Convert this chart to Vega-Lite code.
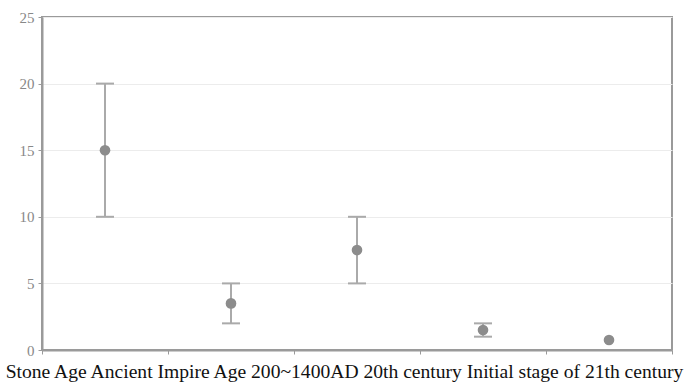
{
  "$schema": "https://vega.github.io/schema/vega-lite/v6.json",
  "width": 630,
  "height": 333,
  "autosize": {"type": "none"},
  "padding": {"left": 42, "top": 17, "right": 14, "bottom": 33},
  "background": "white",
  "config": {
    "view": {"stroke": "#9a9a9a", "strokeWidth": 2},
    "axis": {"domainColor": "#9a9a9a", "domainWidth": 2, "tickColor": "#9a9a9a"}
  },
  "data": {
    "values": [
      {"era": "Stone Age", "value": 15, "lo": 10, "hi": 20},
      {"era": "Ancient Impire Age", "value": 3.5, "lo": 2, "hi": 5},
      {"era": "200~1400AD", "value": 7.5, "lo": 5, "hi": 10},
      {"era": "20th century", "value": 1.5, "lo": 1, "hi": 2},
      {"era": "Initial stage of 21th century", "value": 0.75, "lo": null, "hi": null}
    ]
  },
  "encoding": {
    "x": {
      "field": "era",
      "type": "nominal",
      "sort": null,
      "scale": {"paddingInner": 0, "paddingOuter": 0},
      "axis": {
        "labels": false,
        "tickBand": "extent",
        "tickSize": 4,
        "title": "Stone Age Ancient Impire Age 200~1400AD 20th century Initial stage of 21th century",
        "titleFont": "Liberation Serif",
        "titleFontSize": 19.6,
        "titleFontWeight": "normal",
        "titleColor": "#111",
        "titleX": 302,
        "titleY": 21,
        "titleAlign": "center",
        "titleBaseline": "middle"
      }
    }
  },
  "layer": [
    {
      "mark": {"type": "rule", "color": "#aaaaaa", "strokeWidth": 2},
      "encoding": {
        "y": {"field": "lo", "type": "quantitative"},
        "y2": {"field": "hi"}
      }
    },
    {
      "mark": {"type": "tick", "color": "#aaaaaa", "orient": "horizontal", "size": 18, "thickness": 2, "opacity": 1},
      "encoding": {"y": {"field": "lo", "type": "quantitative"}}
    },
    {
      "mark": {"type": "tick", "color": "#aaaaaa", "orient": "horizontal", "size": 18, "thickness": 2, "opacity": 1},
      "encoding": {"y": {"field": "hi", "type": "quantitative"}}
    },
    {
      "mark": {"type": "circle", "color": "#8c8c8c", "size": 113, "opacity": 1},
      "encoding": {
        "y": {
          "field": "value",
          "type": "quantitative",
          "scale": {"domain": [0, 25], "nice": false},
          "axis": {
            "title": null,
            "values": [0, 5, 10, 15, 20, 25],
            "grid": true,
            "gridColor": "#ececec",
            "gridWidth": 1,
            "tickSize": 4,
            "labelFont": "Liberation Serif",
            "labelFontSize": 15,
            "labelColor": "#888888",
            "labelPadding": 4
          }
        }
      }
    }
  ]
}
